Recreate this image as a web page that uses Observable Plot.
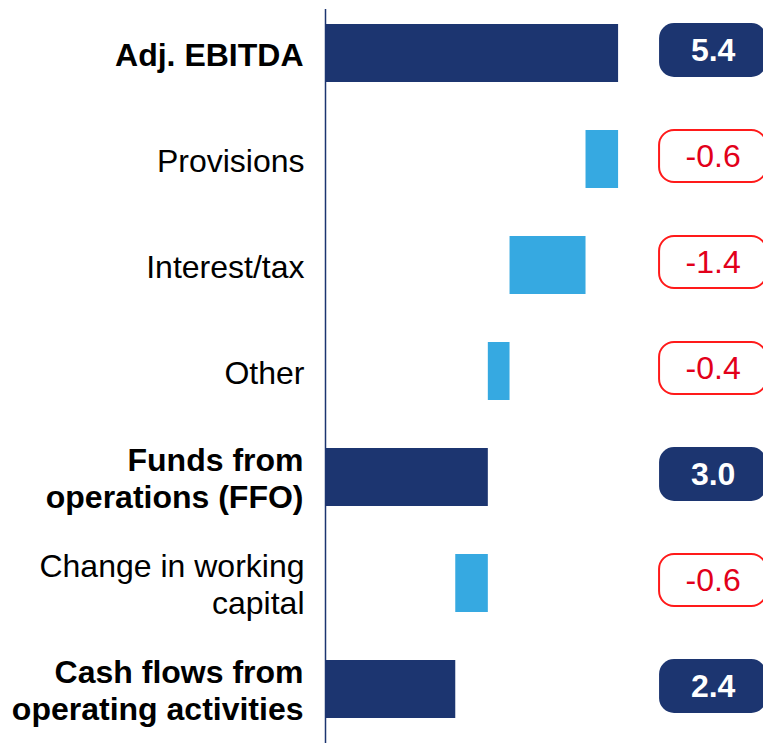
<!DOCTYPE html>
<html><head><meta charset="utf-8">
<script src="https://cdn.jsdelivr.net/npm/d3@7"></script>
<script src="https://cdn.jsdelivr.net/npm/@observablehq/plot@0.6"></script>
<style>body{margin:0;background:#fff;overflow:hidden;}</style>
</head><body><div id="chart"></div>
<script>
const categories = ["Adj. EBITDA", "Provisions", "Interest/tax", "Other", "Funds from\noperations (FFO)", "Change in working\ncapital", "Cash flows from\noperating activities"];
const values = [5.4, -0.6, -1.4, -0.4, 3.0, -0.6, 2.4];
const kinds = ["total", "delta", "delta", "delta", "total", "delta", "total"];

const NAVY = "#1c3570", BLUE = "#36a9e1", RED = "#e2001a", RED_STROKE = "#ff1a1a";
const FONT = "'Liberation Sans', Arial, sans-serif";

let run = 0;
const rows = categories.map((c, i) => {
  const v = values[i];
  let x1, x2;
  if (kinds[i] === "total") { x1 = 0; x2 = v; run = v; }
  else { x1 = run + v; x2 = run; run = run + v; }
  return {cat: c, value: v, kind: kinds[i], x1, x2, label: v.toFixed(1)};
});
const totals = rows.filter(d => d.kind === "total");
const deltas = rows.filter(d => d.kind !== "total");

// layout: value-label column position, in x units
const XMAX = 8.07;
const BOX_X1 = 6.155, BOX_X2 = 8.13, BOX_MID = (BOX_X1 + BOX_X2) / 2;

const chart = Plot.plot({
  width: 763, height: 743,
  marginLeft: 325, marginRight: 0, marginTop: 9, marginBottom: 10,
  style: {fontFamily: FONT, background: "#fff"},
  x: {domain: [0, XMAX], axis: null},
  y: {domain: categories, axis: null, paddingInner: 0.455, paddingOuter: 0.14},
  marks: [
    Plot.barX(rows, {y: "cat", x1: "x1", x2: "x2", fill: d => d.kind === "total" ? NAVY : BLUE}),
    Plot.ruleX([0], {stroke: NAVY, strokeWidth: 1.5, insetBottom: -10}),
    Plot.barX(totals, {y: "cat", x1: BOX_X1, x2: BOX_X2, rx: 15, ry: 15, fill: NAVY, insetTop: -1, insetBottom: 5}),
    Plot.barX(deltas, {y: "cat", x1: BOX_X1, x2: BOX_X2, rx: 15, ry: 15, fill: "#fff", stroke: RED_STROKE, strokeWidth: 2, insetTop: 0, insetBottom: 6}),
    Plot.text(totals, {x: BOX_MID, y: "cat", text: "label", fill: "#fff", fontWeight: "bold", fontSize: 32, dy: -3}),
    Plot.text(deltas, {x: BOX_MID, y: "cat", text: "label", fill: RED, fontSize: 32, dy: -3}),
    Plot.text(totals, {x: 0, y: "cat", text: "cat", textAnchor: "end", dx: -22, fontWeight: "bold", fontSize: 32, lineHeight: 1.18, fill: "#000"}),
    Plot.text(deltas, {x: 0, y: "cat", text: "cat", textAnchor: "end", dx: -21, fontSize: 32, lineHeight: 1.18, fill: "#000"})
  ]
});
document.getElementById("chart").append(chart);
</script>
</body></html>
